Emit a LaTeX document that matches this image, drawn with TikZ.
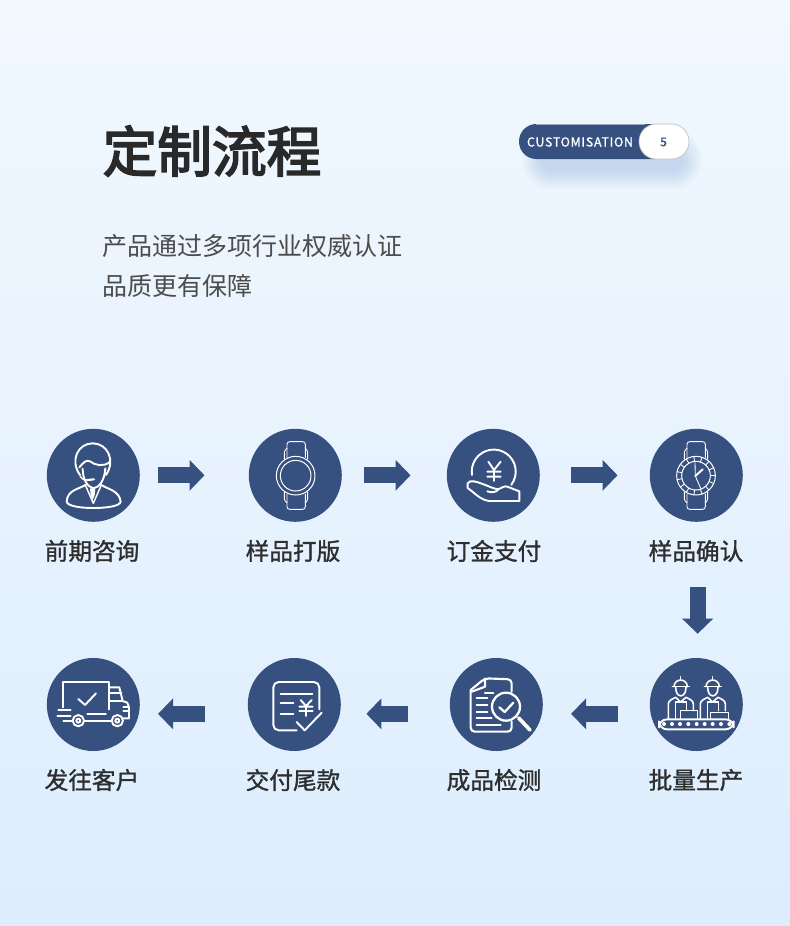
\documentclass[tikz,border=0pt]{standalone}
\usepackage{fontspec}
\usetikzlibrary{arrows.meta,calc}
\setmainfont{Noto Sans}
\newfontfamily\cjk{Noto Sans CJK SC}
\newfontfamily\cjktitle[FakeBold=3.2]{Noto Sans CJK SC}
\newfontfamily\cjkmed[FakeBold=1.2]{Noto Sans CJK SC}
\newfontfamily\badgefont[LetterSpace=6,FakeBold=1.1]{Noto Sans CJK SC}
\newfontfamily\numfont[FakeBold=0.9]{Noto Sans CJK SC}
\definecolor{navy}{HTML}{36507F}
\definecolor{bgtop}{HTML}{F1F8FE}
\definecolor{bgbot}{HTML}{DDEDFE}
\definecolor{shadowblue}{HTML}{5F8FD0}
\tikzset{
  disc/.style={circle,fill=navy,draw=none,minimum size=69.75pt,inner sep=0pt},
  steplabel/.style={inner sep=0pt,font=\cjkmed\fontsize{17.75pt}{20pt}\selectfont,text=black!82},
  flow/.style={draw=navy,line width=12pt,-{Triangle[length=11.25pt,width=22.5pt]}},
  ico/.style={draw=white,line width=1.45pt,line cap=round,line join=round},
  icothin/.style={draw=white,line width=.65pt,line cap=round,line join=round},
  zoomed/.style={x=.25pt,y=-.25pt},
}
\begin{document}
\begin{tikzpicture}[x=.75pt,y=-.75pt]
\useasboundingbox (0,0) rectangle (790,926);
\shade[top color=bgtop,bottom color=bgbot] (0,0) rectangle (790,926);
% badge shadow
\foreach \w in {60,56,...,24}{
  \draw[shadowblue,opacity=.028,line cap=round,line width=\w*.75pt] (552,160) -- (672,160);
}
\node[inner sep=0pt,font=\cjktitle\fontsize{41pt}{46pt}\selectfont,text=black!84] (title) at (212,151) {定制流程};
\node[anchor=west,inner sep=0pt,font=\cjk\fontsize{18.75pt}{22pt}\selectfont,text=black!70] (sub1) at (102,246) {产品通过多项行业权威认证};
\node[anchor=west,inner sep=0pt,font=\cjk\fontsize{18.75pt}{22pt}\selectfont,text=black!70] (sub2) at (102,286) {品质更有保障};
% badge
\fill[navy,rounded corners=13pt] (519,124) rectangle (672,159);
\draw[white,line width=.5pt,draw opacity=.5] (536,124) -- (645,124);
\draw[black!25,fill=white,line width=.5pt,rounded corners=13pt] (639,124) rectangle (689,159);
\node[inner sep=0pt,text=white,font=\badgefont\fontsize{9.3pt}{11pt}\selectfont] (badge) at (580,142) {CUSTOMISATION};
\node[inner sep=0pt,text=navy,font=\numfont\fontsize{9pt}{11pt}\selectfont] (num) at (663.5,142) {5};
% discs
\node[disc] (c1) at (93.3,475.3) {};
\node[disc] (c2) at (295.3,475.3) {};
\node[disc] (c3) at (493.3,475.3) {};
\node[disc] (c4) at (696.3,475.3) {};
\node[disc] (c5) at (93.3,704.5) {};
\node[disc] (c6) at (294.3,704.5) {};
\node[disc] (c7) at (496.3,704.5) {};
\node[disc] (c8) at (696.3,704.5) {};
% labels
\node[steplabel] (l1) at (92,551) {前期咨询};
\node[steplabel] (l2) at (293,551) {样品打版};
\node[steplabel] (l3) at (494,551) {订金支付};
\node[steplabel] (l4) at (696,551) {样品确认};
\node[steplabel] (l5) at (92,780) {发往客户};
\node[steplabel] (l6) at (293,780) {交付尾款};
\node[steplabel] (l7) at (494,780) {成品检测};
\node[steplabel] (l8) at (696,780) {批量生产};
% connectors
\draw[flow,shorten <=13.5pt,shorten >=33pt] (c1) -- (c2);
\draw[flow,shorten <=16.5pt,shorten >=27pt] (c2) -- (c3);
\draw[flow,shorten <=23pt,shorten >=24pt] (c3) -- (c4);
\draw[flow,shorten <=48.5pt,shorten >=18pt] ([xshift=1pt]c4.south) -- ([xshift=1pt]c8.north);
\draw[flow,shorten <=24pt,shorten >=21pt] ([yshift=-7pt]c8.west) -- ([yshift=-7pt]c7.east);
\draw[flow,shorten <=31.5pt,shorten >=19pt] ([yshift=-7pt]c7.west) -- ([yshift=-7pt]c6.east);
\draw[flow,shorten <=32pt,shorten >=13.5pt] ([yshift=-7pt]c6.west) -- ([yshift=-7pt]c5.east);
% icon 1: person
\begin{scope}[shift={(30,420)},zoomed]
\draw[ico] (150,165) .. controls (118,120) and (145,70) .. (188,70) .. controls (232,70) and (258,120) .. (228,165);
\draw[ico] (148,142) .. controls (160,128) and (168,118) .. (180,124) .. controls (195,136) and (222,142) .. (240,125);
\draw[ico] (158,146) .. controls (158,175) and (170,200) .. (190,205) .. controls (208,203) and (224,180) .. (226,145);
\draw[ico,line width=1pt] (150,168) .. controls (158,182) and (168,180) .. (178,180);
\draw[ico,line width=1.6pt] (172,180) -- (192,178);
\draw[ico] (166,195) .. controls (145,208) and (112,210) .. (110,245) .. controls (112,258) and (150,264) .. (190,264) .. controls (232,264) and (270,258) .. (272,245) .. controls (268,212) and (235,208) .. (214,195);
\draw[ico,line width=1.1pt] (166,195) -- (190,250) -- (214,195);
\fill[white] (180,205) -- (196,205) -- (194,226) -- (188,240) -- (182,226) -- cycle;
\end{scope}
% icon 2: watch
\begin{scope}[shift={(30,420)},zoomed]
\draw[icothin,rounded corners=2pt] (771,112) -- (771,65) -- (826,65) -- (826,112);
\draw[icothin,rounded corners=2pt] (771,222) -- (771,268) -- (826,268) -- (826,222);
\draw[icothin,rounded corners=2pt] (771,85) -- (763,90) -- (763,118);
\draw[icothin,rounded corners=2pt] (826,85) -- (833,90) -- (833,118);
\draw[icothin,rounded corners=2pt] (771,248) -- (763,244) -- (763,216);
\draw[icothin,rounded corners=2pt] (826,248) -- (833,244) -- (833,216);
\draw[icothin,line width=.75pt] (797,167) ellipse (58 and 58);
\draw[icothin,line width=.75pt] (797,167) ellipse (46 and 46);
\end{scope}
% icon 3: coin in hand
\begin{scope}[shift={(430,420)},zoomed]
\draw[ico] (126,165) arc (171:397:66);
\draw[ico] (175,125) -- (192,150) -- (212,125) (172,155) -- (212,155) (172,170) -- (212,170) (192,150) -- (192,183);
\draw[ico] (113,190) .. controls (120,178) and (140,185) .. (158,192) .. controls (175,198) and (190,206) .. (205,208) .. controls (215,205) and (222,196) .. (232,200) -- (268,214) -- (268,243) -- (178,243) .. controls (150,240) and (130,215) .. (113,204) -- cycle;
\draw[ico] (205,208) .. controls (198,218) and (185,218) .. (172,214);
\end{scope}
% icon 4: clock watch
\begin{scope}[shift={(430,420)},zoomed]
\draw[icothin,rounded corners=2pt] (771,112) -- (771,65) -- (826,65) -- (826,112);
\draw[icothin,rounded corners=2pt] (771,222) -- (771,268) -- (826,268) -- (826,222);
\draw[icothin,rounded corners=2pt] (771,85) -- (763,90) -- (763,118);
\draw[icothin,rounded corners=2pt] (826,85) -- (833,90) -- (833,118);
\draw[icothin,rounded corners=2pt] (771,248) -- (763,244) -- (763,216);
\draw[icothin,rounded corners=2pt] (826,248) -- (833,244) -- (833,216);
\draw[icothin,line width=.75pt] (798,167) ellipse (58 and 58);
\draw[icothin,line width=.75pt] (798,167) ellipse (43 and 43);
\foreach \a in {0,24,...,336}{
  \draw[icothin] ($(798,167)+(\a:43)$) -- ($(798,167)+(\a:58)$);
}
\draw[ico] (796,168) -- (818,148);
\draw[icothin] (796,168) -- (795,128);
\draw[icothin] (796,168) -- (812,205);
\end{scope}
% icon 5: truck
\begin{scope}[shift={(30,650)},zoomed]
\draw[ico] (100,172) -- (100,97) -- (237,97) -- (237,178);
\draw[ico] (145,147) -- (165,165) -- (198,130);
\draw[ico] (237,112) -- (268,112) -- (278,153) -- (292,158) -- (297,172) -- (297,205) -- (280,205);
\draw[ico] (240,128) -- (274,128) (240,153) -- (278,153);
\draw[ico] (280,172) -- (297,172) (280,184) -- (297,184);
\draw[ico] (85,180) -- (122,180) (82,197) -- (122,197) (100,212) -- (125,212);
\draw[ico] (172,192) -- (228,192) (165,212) -- (242,212);
\draw[ico] (145,212) circle (17);
\draw[ico] (145,212) circle (6);
\draw[ico] (262,212) circle (17);
\draw[ico] (262,212) circle (6);
\end{scope}
% icon 6: bill
\begin{scope}[shift={(30,650)},zoomed]
\draw[ico,rounded corners=4pt] (868,178) -- (868,96) -- (730,96) -- (730,241) -- (800,241);
\draw[ico] (752,133) -- (847,133) (752,160) -- (790,160) (752,193) -- (790,193);
\draw[ico] (812,150) -- (828,168) -- (845,150) (808,170) -- (848,170) (808,183) -- (848,183) (828,168) -- (828,198);
\draw[ico] (800,216) -- (824,241) -- (875,188);
\end{scope}
% icon 7: inspection
\begin{scope}[shift={(430,650)},zoomed]
\draw[ico,line width=1.6pt,rounded corners=3pt] (122,120) -- (122,245) -- (245,245) -- (245,215);
\draw[ico,line width=1.6pt,rounded corners=3pt] (122,120) -- (165,85) -- (245,88) -- (245,125);
\draw[ico,line width=1.6pt] (165,85) -- (165,110) -- (125,125);
\draw[ico,line width=1.6pt] (165,128) -- (190,128) (140,145) -- (172,145) (140,165) -- (172,165) (140,185) -- (172,185) (140,205) -- (185,205) (140,225) -- (212,225);
\draw[ico,line width=1.7pt] (228,170) circle (42);
\draw[ico,line width=1.7pt] (208,172) -- (224,186) -- (250,158);
\draw[ico,line width=2.8pt] (266,204) -- (300,240);
\end{scope}
% icon 8: workers on belt
\begin{scope}[shift={(640,660)},zoomed]
\foreach \dx in {0,96}{
\begin{scope}[xshift=\dx*.25pt]
\draw[ico,line width=1.2pt] (102,80) arc (180:360:20);
\draw[ico,line width=1.2pt] (97,80) -- (148,80);
\draw[ico,line width=1.2pt] (122,50) -- (122,60);
\draw[ico,line width=1.2pt] (107,82) .. controls (107,116) and (138,116) .. (138,82);
\draw[ico,line width=1.2pt] (85,176) -- (85,132) .. controls (85,122) and (95,118) .. (107,112) -- (122,126) -- (138,112) .. controls (150,118) and (160,122) .. (160,132) -- (160,152);
\draw[ico,line width=1.2pt] (107,176) -- (107,126) -- (140,126) -- (140,152);
\end{scope}
}
\draw[ico,line width=1.2pt] (122,176) -- (122,152) -- (172,152) -- (172,176);
\draw[ico,line width=1.2pt] (212,176) -- (212,158) -- (265,158) -- (265,176);
\draw[ico,rounded corners=6pt] (57,178) rectangle (281,208);
\foreach \x in {72,96,120,145,170,194,218,243,268}{
  \fill[white] (\x,192) circle (6);
}
\end{scope}
\end{tikzpicture}
\end{document}
